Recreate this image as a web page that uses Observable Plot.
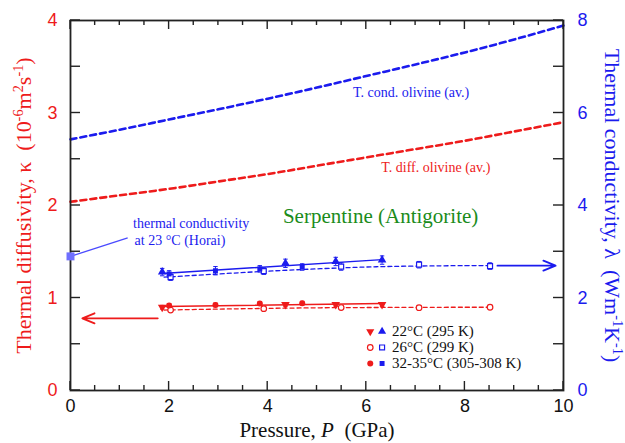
<!DOCTYPE html>
<html>
<head>
<meta charset="utf-8">
<script src="https://cdn.jsdelivr.net/npm/d3@7"></script>
<script src="https://cdn.jsdelivr.net/npm/@observablehq/plot@0.6"></script>
<style>
  body { margin: 0; background: #fff; }
  #chart svg { display: block; }
</style>
</head>
<body>
<div id="chart"></div>
<script>
// ---------------- data ----------------
// Olivine averages (dashed curves)
const olivineP = [0, 1, 2, 3, 4, 5, 6, 7, 8, 9, 10];
const olivineConductivity = [5.43, 5.64, 5.86, 6.08, 6.31, 6.55, 6.80, 7.05, 7.31, 7.59, 7.89]; // W m-1 K-1
const olivineDiffusivity = [2.04, 2.11, 2.18, 2.26, 2.34, 2.43, 2.52, 2.61, 2.70, 2.80, 2.90];  // 1e-6 m2 s-1

// Serpentine measurements, 22 °C (295 K)
const p22 = [1.86, 4.36, 5.38, 6.32];
const lambda22 = [2.56, 2.75, 2.79, 2.82];
const lambda22Err = [0.08, 0.09, 0.09, 0.09];
const kappa22 = [0.90, 0.93, 0.93, 0.93];
const kappa22Err = [0.02, 0.02, 0.02, 0.02];

// 26 °C (299 K)
const p26 = [2.03, 3.92, 5.49, 7.07, 8.51];
const lambda26 = [2.45, 2.58, 2.68, 2.72, 2.69];
const lambda26Err = [0.07, 0.07, 0.08, 0.07, 0.07];
const kappa26 = [0.87, 0.885, 0.897, 0.895, 0.90];
const kappa26Err = [0.015, 0.015, 0.015, 0.015, 0.015];

// 32-35 °C (305-308 K)
const p32 = [2.00, 2.94, 3.84, 4.70];
const lambda32 = [2.52, 2.59, 2.63, 2.67];
const lambda32Err = [0.07, 0.09, 0.07, 0.07];
const kappa32 = [0.92, 0.925, 0.94, 0.944];
const kappa32Err = [0.02, 0.02, 0.02, 0.02];

// Fitted trends
const fitSolidP = [1.86, 6.32];
const fitSolidLambda = [2.53, 2.83];
const fitSolidKappa = [0.908, 0.94];
const fitDashP = [1.9, 3, 4, 5, 6, 7, 8, 8.5];
const fitDashLambda = [2.45, 2.52, 2.58, 2.63, 2.67, 2.69, 2.70, 2.70];
const fitDashKappa = [0.87, 0.88, 0.888, 0.894, 0.897, 0.899, 0.90, 0.90];

// Horai reference value at 23 °C
const horaiP = [0];
const horaiLambda = [2.9];

// Axis ticks
const xMinorTicks = d3.range(0, 10.01, 0.5);
const xMajorTicks = [0, 2, 4, 6, 8, 10];
const kappaTicks = d3.range(0, 4.01, 0.5);
const kappaLabels = [0, 1, 2, 3, 4];
const lambdaTicks = [0, 1, 2, 3, 4, 5, 6, 7, 8];
const lambdaLabels = [0, 2, 4, 6, 8];

// Legend
const legendLabels = ["22°C (295 K)", "26°C (299 K)", "32-35°C (305-308 K)"];

// ---------------- presentation ----------------
const RED = "#ee1b1b", BLUE = "#1b1bee", GREEN = "#1b8c1b";
const SERIF = "Liberation Serif, Times New Roman, serif";
const SANS = "Liberation Sans, Arial, sans-serif";
const LAMBDA_PER_KAPPA = 2; // right axis spans 0..8 while left spans 0..4
const toK = v => v / LAMBDA_PER_KAPPA;
const fmt = d3.format("d");

const W = 625, H = 443, ML = 70, MR = 62, MT = 20, MB = 53;

const series = (p, v, e) => p.map((x, i) => ({x, v: v[i], e: e ? e[i] : 0}));
const olivineCond = series(olivineP, olivineConductivity);
const olivineDiff = series(olivineP, olivineDiffusivity);
const b22 = series(p22, lambda22, lambda22Err), r22 = series(p22, kappa22, kappa22Err);
const b26 = series(p26, lambda26, lambda26Err), r26 = series(p26, kappa26, kappa26Err);
const b32 = series(p32, lambda32, lambda32Err), r32 = series(p32, kappa32, kappa32Err);
const fitBS = series(fitSolidP, fitSolidLambda), fitRS = series(fitSolidP, fitSolidKappa);
const fitBD = series(fitDashP, fitDashLambda), fitRD = series(fitDashP, fitDashKappa);
const horai = series(horaiP, horaiLambda);

// annotation placement (data coordinates: P in GPa, y in kappa units)
const notes = [
  {x: 6.91, y: 3.22, text: "T. cond. olivine (av.)", fill: BLUE, size: 14},
  {x: 7.41, y: 2.41, text: "T. diff. olivine (av.)", fill: RED, size: 14},
  {x: 6.29, y: 1.88, text: "Serpentine (Antigorite)", fill: GREEN, size: 21},
];
const horaiNotes = [
  {x: 1.27, y: 1.805, text: "thermal conductivity"},
  {x: 1.30, y: 1.62, text: "at 23 °C (Horai)"}
];
const horaiLink = [{x1: 0, y1: toK(horaiLambda[0]), x2: 1.16, y2: 1.65}];
const arrows = [
  {x1: 1.77, x2: 0.24, y: 0.78, stroke: RED},
  {x1: 8.66, x2: 9.84, y: 1.35, stroke: BLUE}
];
const legendRowsY = [0.638, 0.465, 0.292];
const legendRows = legendLabels.map((t, i) => ({t, y: legendRowsY[i], xr: 6.08, xb: 6.32, xt: 6.52}));

// custom symbol for error-bar caps
const capSymbol = {draw(ctx, size) { const r = Math.sqrt(size) / 2; ctx.moveTo(-r, 0); ctx.lineTo(r, 0); }};

function errorBars(data, color, scale) {
  return [
    Plot.ruleX(data, {x: "x", y1: d => scale(d.v - d.e), y2: d => scale(d.v + d.e), stroke: color, strokeWidth: 1}),
    Plot.dot(data, {x: "x", y: d => scale(d.v - d.e), symbol: capSymbol, r: 2.5, stroke: color, strokeWidth: 1}),
    Plot.dot(data, {x: "x", y: d => scale(d.v + d.e), symbol: capSymbol, r: 2.5, stroke: color, strokeWidth: 1})
  ];
}
const ident = v => v;
const TW = 1.4; // tick stroke width
const TICK = "#222";

const chart = Plot.plot({
  width: W,
  height: H,
  marginLeft: ML,
  marginRight: MR,
  marginTop: MT,
  marginBottom: MB,
  x: {domain: [0, 10], axis: null},
  y: {domain: [0, 4], axis: null},
  marks: [
    // tick labels
    Plot.axisX(xMajorTicks, {anchor: "bottom", tickSize: 0, tickPadding: 9, tickFormat: fmt, label: null, fontSize: 18, fontFamily: SANS, fill: "#111"}),
    Plot.axisY(kappaLabels, {anchor: "left", tickSize: 0, tickPadding: 13, tickFormat: fmt, label: null, fontSize: 18, fontFamily: SANS, fill: RED}),
    Plot.axisY(lambdaLabels.map(toK), {anchor: "right", tickSize: 0, tickPadding: 14, label: null, fontSize: 18, fontFamily: SANS, fill: BLUE,
      tickFormat: d => fmt(d * LAMBDA_PER_KAPPA)}),

    // olivine averages
    Plot.line(olivineCond, {x: "x", y: d => toK(d.v), stroke: BLUE, strokeWidth: 2.6, strokeDasharray: "6,4", curve: "natural"}),
    Plot.line(olivineDiff, {x: "x", y: "v", stroke: RED, strokeWidth: 2.6, strokeDasharray: "6,4", curve: "natural"}),

    // fitted trends
    Plot.line(fitBS, {x: "x", y: d => toK(d.v), stroke: BLUE, strokeWidth: 1.4}),
    Plot.line(fitBD, {x: "x", y: d => toK(d.v), stroke: BLUE, strokeWidth: 1.3, strokeDasharray: "4,3", curve: "natural"}),
    Plot.line(fitRS, {x: "x", y: "v", stroke: RED, strokeWidth: 1.4}),
    Plot.line(fitRD, {x: "x", y: "v", stroke: RED, strokeWidth: 1.3, strokeDasharray: "4,3", curve: "natural"}),

    // error bars
    ...errorBars(b22, BLUE, toK), ...errorBars(b26, BLUE, toK), ...errorBars(b32, BLUE, toK),
    ...errorBars(r22, RED, ident), ...errorBars(r26, RED, ident), ...errorBars(r32, RED, ident),

    // markers
    Plot.dot(b22, {x: "x", y: d => toK(d.v), symbol: "triangle", r: 3.2, fill: BLUE}),
    Plot.dot(b26, {x: "x", y: d => toK(d.v), symbol: "square", r: 2.8, fill: "#fff", stroke: BLUE, strokeWidth: 1.2}),
    Plot.dot(b32, {x: "x", y: d => toK(d.v), symbol: "square", r: 2.8, fill: BLUE}),
    Plot.dot(r22, {x: "x", y: "v", symbol: "triangle", rotate: 180, r: 3.2, fill: RED}),
    Plot.dot(r26, {x: "x", y: "v", symbol: "circle", r: 2.8, fill: "#fff", stroke: RED, strokeWidth: 1.2}),
    Plot.dot(r32, {x: "x", y: "v", symbol: "circle", r: 3, fill: RED}),

    // Horai reference
    Plot.link(horaiLink, {x1: "x1", y1: "y1", x2: "x2", y2: "y2", stroke: "#4a4aff", strokeWidth: 1.3}),
    Plot.text(horaiNotes, {x: "x", y: "y", text: "text", textAnchor: "start", fill: BLUE, fontSize: 14, fontFamily: SERIF}),

    // arrows pointing to axes
    Plot.arrow(arrows, {x1: "x1", x2: "x2", y1: "y", y2: "y", stroke: "stroke", strokeWidth: 1.8, headLength: 11, headAngle: 45}),

    // annotations
    Plot.text(notes, {x: "x", y: "y", text: "text", fill: "fill", fontSize: "size", fontFamily: SERIF}),

    // legend
    Plot.dot(legendRows.slice(0, 1), {x: "xr", y: "y", symbol: "triangle", rotate: 180, r: 3, fill: RED}),
    Plot.dot(legendRows.slice(0, 1), {x: "xb", y: "y", symbol: "triangle", r: 3, fill: BLUE}),
    Plot.dot(legendRows.slice(1, 2), {x: "xr", y: "y", symbol: "circle", r: 2.8, fill: "#fff", stroke: RED, strokeWidth: 1.2}),
    Plot.dot(legendRows.slice(1, 2), {x: "xb", y: "y", symbol: "square", r: 2.8, fill: "#fff", stroke: BLUE, strokeWidth: 1.2}),
    Plot.dot(legendRows.slice(2, 3), {x: "xr", y: "y", symbol: "circle", r: 3, fill: RED}),
    Plot.dot(legendRows.slice(2, 3), {x: "xb", y: "y", symbol: "square", r: 2.8, fill: BLUE}),
    Plot.text(legendRows, {x: "xt", y: "y", text: "t", textAnchor: "start", fill: "#111", fontSize: 15, fontFamily: SERIF}),

    // axis titles
    Plot.text(["Thermal diffusivity, κ  (10^{-6}m^{2}s^{-1})"], {frameAnchor: "left", textAnchor: "middle", lineAnchor: "middle",
      dx: -47, rotate: -90, fill: RED, fontSize: 22, fontFamily: SERIF}),
    Plot.text(["Thermal conductivity, λ  (Wm^{-1}K^{-1})"], {frameAnchor: "right", textAnchor: "middle", lineAnchor: "middle",
      dx: 49, rotate: 90, fill: BLUE, fontSize: 22, fontFamily: SERIF}),
    Plot.text(["Pressure, ~{P}  (GPa)"], {frameAnchor: "bottom", textAnchor: "middle", lineAnchor: "middle",
      dy: 40, fill: "#111", fontSize: 21, fontFamily: SERIF}),

    Plot.frame({fill: "none", stroke: "#222", strokeWidth: 1.8}),
    Plot.dot(horai, {x: "x", y: d => toK(d.v), symbol: "square", r: 4.5, fill: "#6f6fff"})
  ]
});

// rich text: ^{..} superscript, ~{..} italic
d3.select(chart).selectAll("text").each(function () {
  const t = this.textContent;
  if (!/[\^~]\{/.test(t)) return;
  const parts = t.split(/(\^\{[^}]*\}|~\{[^}]*\})/).filter(s => s.length);
  const el = d3.select(this);
  el.text(null);
  for (const p of parts) {
    if (p.startsWith("^{")) {
      el.append("tspan").attr("baseline-shift", "super").attr("font-size", "65%").text(p.slice(2, -1));
    } else if (p.startsWith("~{")) {
      el.append("tspan").attr("font-style", "italic").text(p.slice(2, -1));
    } else {
      el.append("tspan").text(p);
    }
  }
});

// inward ticks on all four sides, positioned through the chart's own scales
const xs = chart.scale("x"), ys = chart.scale("y");
const yBottom = ys.apply(0), yTop = ys.apply(4), xLeft = xs.apply(0), xRight = xs.apply(10);
const tg = d3.select(chart).append("g")
  .attr("stroke", TICK).attr("stroke-width", TW).attr("fill", "none");
for (const v of xMinorTicks) {
  const len = xMajorTicks.includes(v) ? 9 : 5;
  const px = xs.apply(v);
  tg.append("line").attr("x1", px).attr("x2", px).attr("y1", yBottom).attr("y2", yBottom - len);
  tg.append("line").attr("x1", px).attr("x2", px).attr("y1", yTop).attr("y2", yTop + len);
}
for (const v of kappaTicks) {
  const py = ys.apply(v);
  tg.append("line").attr("x1", xLeft).attr("x2", xLeft + 10).attr("y1", py).attr("y2", py);
}
for (const v of lambdaTicks) {
  const py = ys.apply(toK(v));
  tg.append("line").attr("x1", xRight).attr("x2", xRight - 10).attr("y1", py).attr("y2", py);
}

document.getElementById("chart").append(chart);
</script>
</body>
</html>
